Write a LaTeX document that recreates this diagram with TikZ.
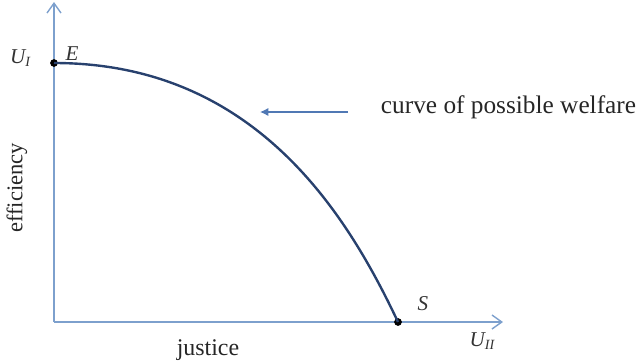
\documentclass[tikz,border=0pt]{standalone}
\usepackage{fontspec}
\setmainfont{Liberation Serif}
\usepackage{tikz}
\usetikzlibrary{arrows.meta, positioning}

\definecolor{axisblue}{RGB}{125,160,205}
\definecolor{curveblue}{RGB}{40,65,110}
\definecolor{pointerblue}{RGB}{80,120,180}

\newcommand{\ulab}[1]{\textit{U}\raisebox{-0.3ex}{\fontsize{10}{12}\selectfont\textit{#1}}}

\begin{document}
\begin{tikzpicture}[
  x=0.025cm, y=-0.025cm,
  axis/.style={draw=axisblue, line width=1pt, -{Straight Barb[length=7pt, width=10pt]}},
  welfare/.style={draw=curveblue, line width=1.7pt},
  pointer/.style={draw=pointerblue, line width=1pt, -{Latex[length=6pt, width=6pt]}},
  dot/.style={circle, fill=black, inner sep=0pt, minimum size=5.5pt},
  lbl/.style={font=\fontsize{15}{17}\selectfont\itshape, text=black!80},
  txt/.style={font=\fontsize{17}{19}\selectfont, text=black!85}
]
  \useasboundingbox (0,0) rectangle (640,363);

  % axes
  \coordinate (O) at (54,322);
  \coordinate (ytop) at (54,2);
  \coordinate (xend) at (503,322);
  \draw[axis] (O) -- (ytop);
  \draw[axis] (O) -- (xend);

  % end points of the curve
  \node[dot] (E) at (54,63) {};
  \node[dot] (S) at (398,322) {};

  \draw[welfare] (E.center) .. controls (255,63) and (347,214) .. (S.center);

  \node[lbl] (UI) at (20,58) {\ulab{I}};
  \node[lbl] (Elbl) at (72,54) {E};
  \node[lbl] (Slbl) at (423,304) {S};
  \node[lbl] (UII) at (482,341) {\ulab{II}};

  \node[txt, font=\fontsize{16}{18}\selectfont, rotate=90] (eff) at (17,188) {efficiency};
  \node[txt] (just) at (208,350) {justice};

  % label of the curve
  \node[txt, font=\fontsize{18}{20}\selectfont, anchor=west] (cpw) at (376,107) {curve of possible welfare};
  \coordinate (ptail) at (348,112);
  \coordinate (phead) at (260,112);
  \draw[pointer] (ptail) -- (phead);
\end{tikzpicture}
\end{document}
